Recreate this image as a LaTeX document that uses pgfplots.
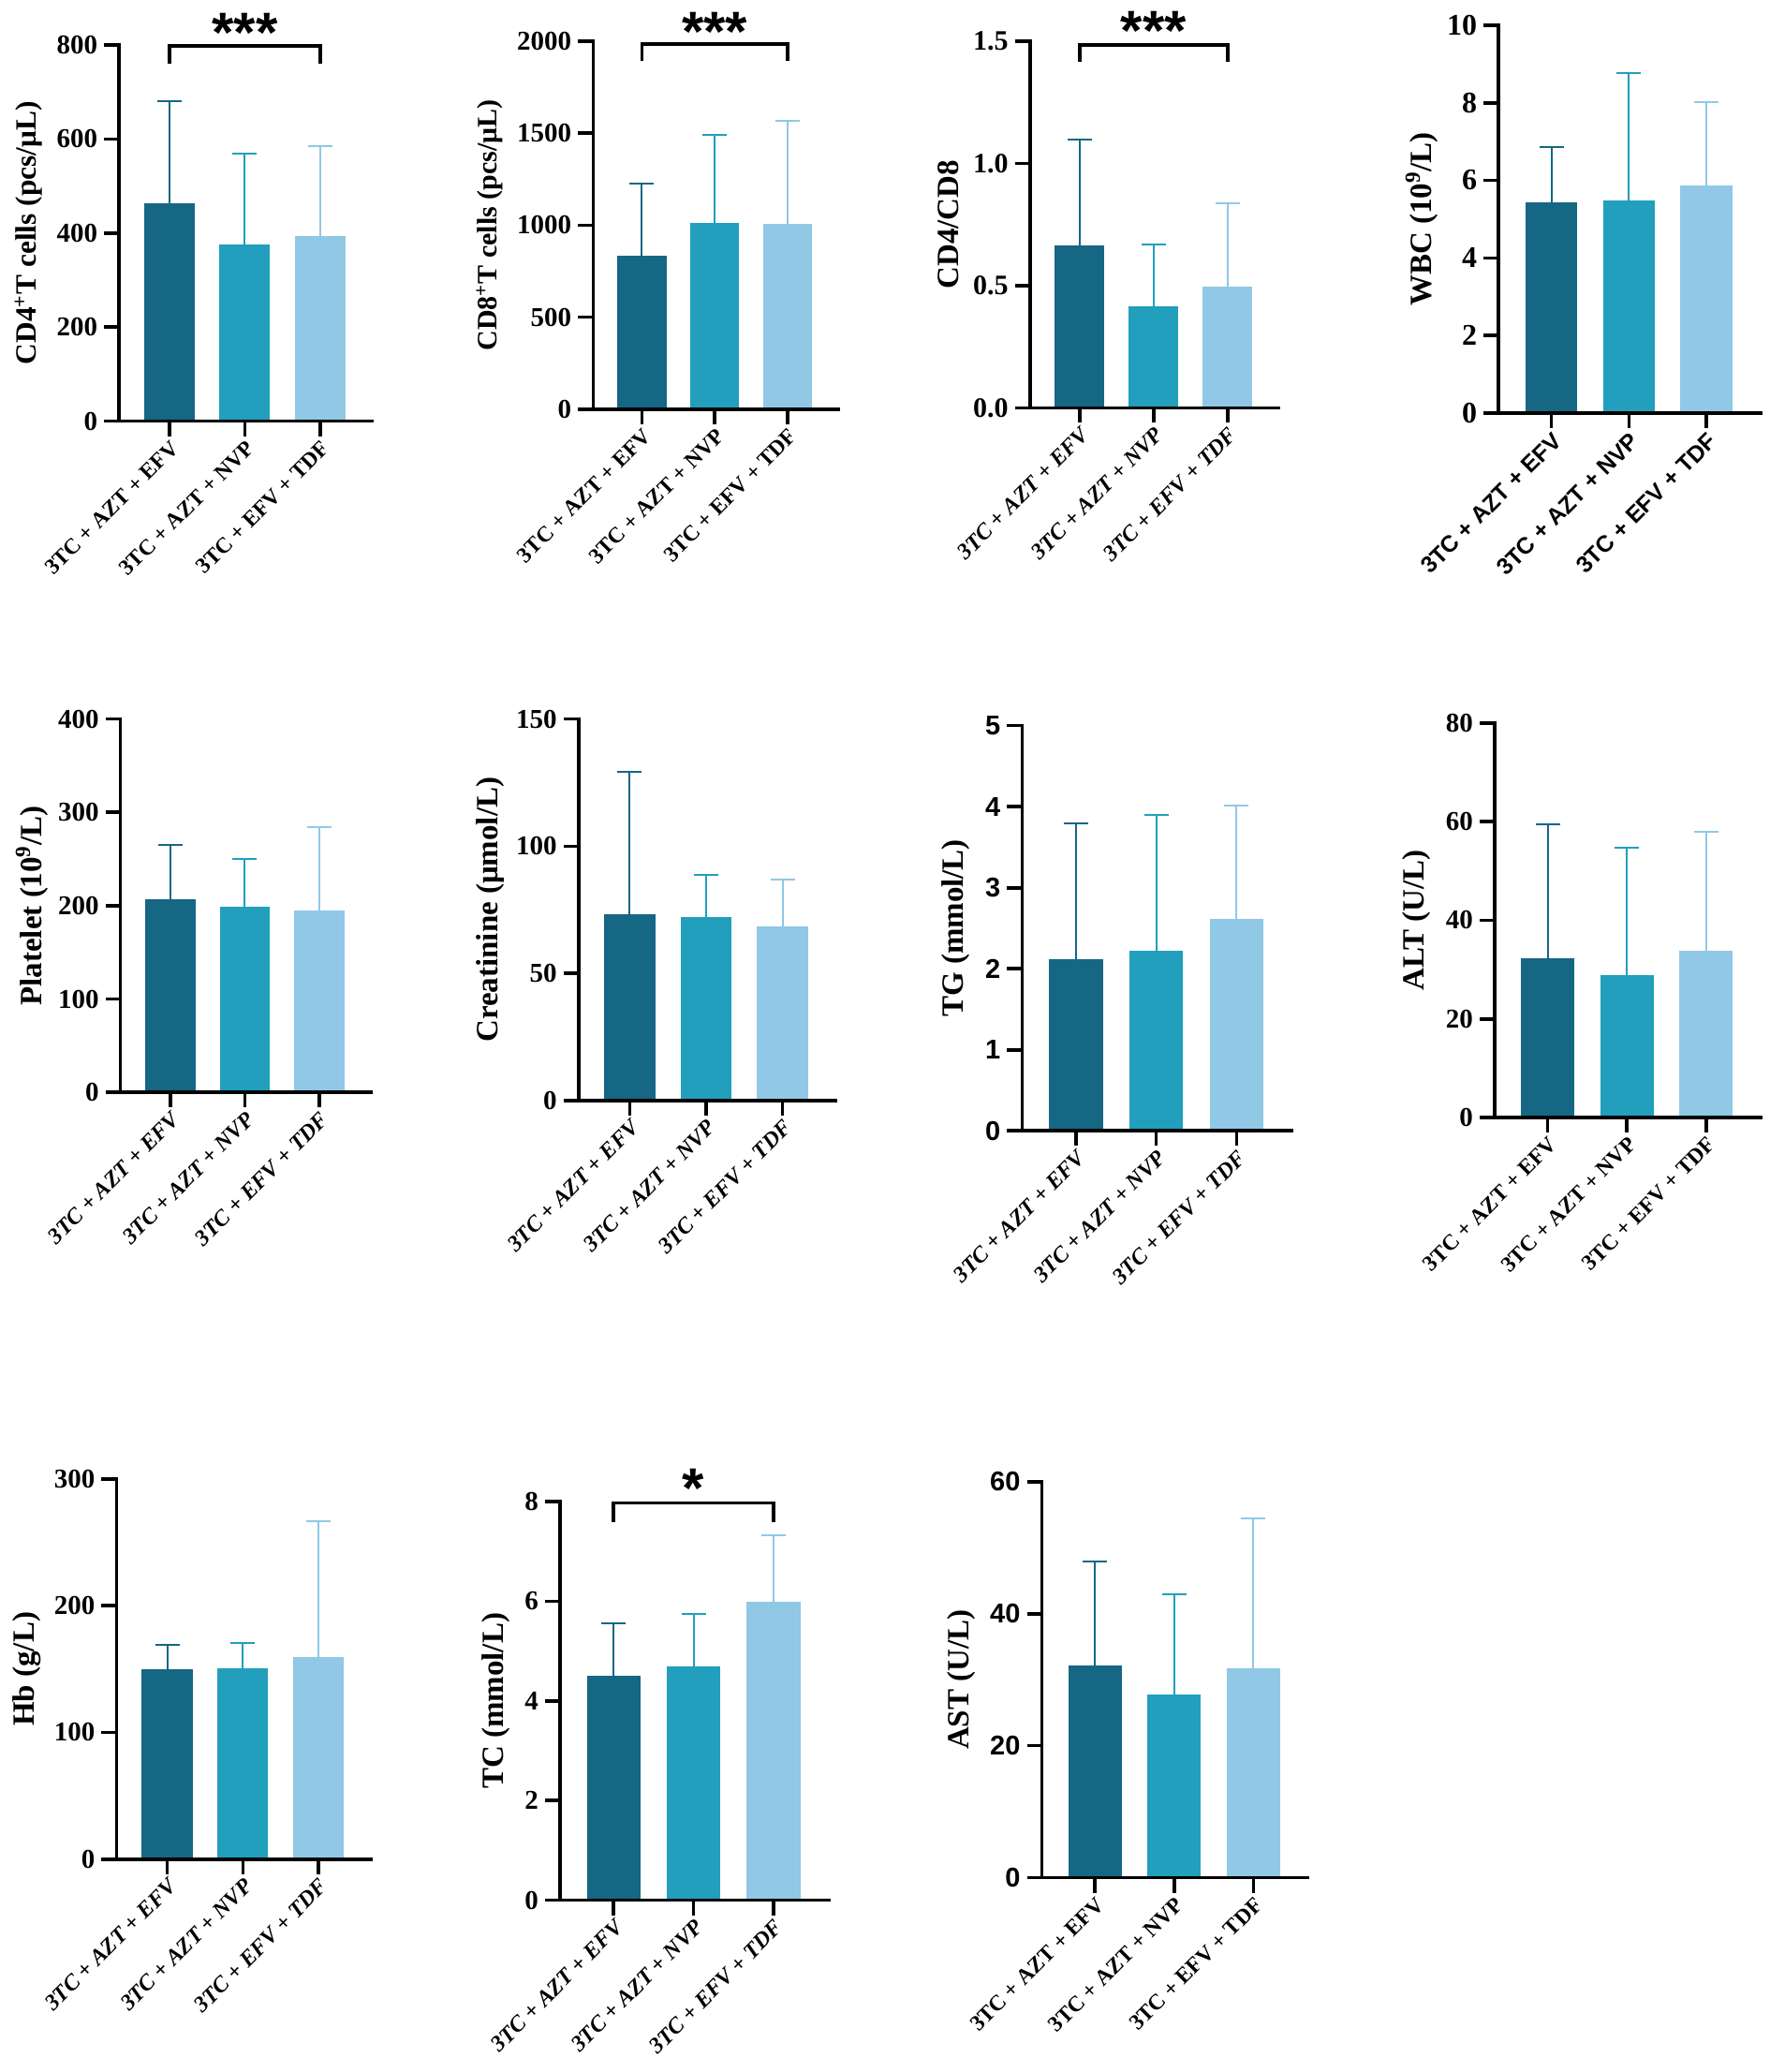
\documentclass[border=0pt]{standalone}
\usepackage{fontspec}
\setmainfont{Liberation Serif}
\newfontfamily\arialfont{Liberation Sans}
\usepackage{pgfplots}
\pgfplotsset{compat=1.18}
\definecolor{c1}{HTML}{156784}
\definecolor{c2}{HTML}{219FBD}
\definecolor{c3}{HTML}{90C8E6}
\newcommand{\tickserif}{\bfseries\fontsize{14.5}{16}\selectfont}
\newcommand{\ticksans}{\arialfont\bfseries\fontsize{14.5}{16}\selectfont}
\newcommand{\labup}{\bfseries\fontsize{11.8}{13}\selectfont}
\newcommand{\labit}{\bfseries\itshape\fontsize{12}{13}\selectfont}
\newcommand{\labsans}{\arialfont\bfseries\fontsize{12.4}{13}\selectfont}
\newcommand{\starfont}{\arialfont\bfseries\fontsize{30}{32}\selectfont}
\pgfplotsset{
 gp/.style={
  scale only axis, clip=false, axis on top,
  anchor=south west,
  axis x line=bottom, axis y line=left,
  axis line style={line width=1.8pt, -, line cap=rect},
  tick style={black, line width=1.8pt},
  major tick length=8pt,
  tick align=outside,
  xmin=-0.67, xmax=2.69, ymin=0,
  xtick={0,1,2},
  xticklabels={3TC + AZT + EFV, 3TC + AZT + NVP, 3TC + EFV + TDF},
  x tick label style={rotate=45, anchor=north east, inner sep=1pt},
  /pgf/number format/assume math mode=true,
  /pgf/number format/1000 sep={},
  scaled y ticks=false,
  ylabel style={font=\bfseries\fontsize{16.5}{18}\selectfont, anchor=center},
 },
 b1/.style={ybar, bar width=0.67, bar shift=0pt, fill=c1, draw=none,
   error bars/.cd, y dir=plus, y explicit,
   error bar style={c1, line width=1pt},
   error mark options={c1, line width=1pt, mark size=6.5pt, rotate=90}},
 b2/.style={ybar, bar width=0.67, bar shift=0pt, fill=c2, draw=none,
   error bars/.cd, y dir=plus, y explicit,
   error bar style={c2, line width=1pt},
   error mark options={c2, line width=1pt, mark size=6.5pt, rotate=90}},
 b3/.style={ybar, bar width=0.67, bar shift=0pt, fill=c3, draw=none,
   error bars/.cd, y dir=plus, y explicit,
   error bar style={c3, line width=1pt},
   error mark options={c3, line width=1pt, mark size=6.5pt, rotate=90}},
}
\begin{document}
\begin{tikzpicture}
\useasboundingbox (0,0) rectangle (945pt,-1106pt);
% ---------- Row 1 ----------
\begin{axis}[gp, at={(63.61pt,-224.76pt)}, width=135.0pt, height=200.73pt,
  ymax=800, ytick={0,200,400,600,800},
  ylabel={CD4\textsuperscript{+}T cells (pcs/μL)},
  ylabel style={at={(axis description cs:-0.358,0.5)}, font=\bfseries\fontsize{15.7}{17}\selectfont},
  yticklabel style={font=\tickserif}, xticklabel style={font=\labup}]
\addplot[b1] coordinates {(0,463) +- (0,218)};
\addplot[b2] coordinates {(1,376) +- (0,194)};
\addplot[b3] coordinates {(2,394) +- (0,191)};
\draw[line width=1.8pt] (axis cs:0,761) -- (axis cs:0,798) -- (axis cs:2,798) -- (axis cs:2,761);
\node[font=\starfont, anchor=base, yshift=-17.3pt] at (axis cs:1,854) {***};
\end{axis}
\begin{axis}[gp, at={(316.65pt,-218.40pt)}, width=130.76pt, height=196.49pt,
  ymax=2000, ytick={0,500,1000,1500,2000},
  ylabel={CD8\textsuperscript{+}T cells (pcs/μL)},
  ylabel style={at={(axis description cs:-0.422,0.5)}, font=\bfseries\fontsize{15}{17}\selectfont},
  yticklabel style={font=\tickserif}, xticklabel style={font=\labup}]
\addplot[b1] coordinates {(0,833) +- (0,393)};
\addplot[b2] coordinates {(1,1014) +- (0,477)};
\addplot[b3] coordinates {(2,1007) +- (0,562)};
\draw[line width=1.8pt] (axis cs:0,1890) -- (axis cs:0,1983) -- (axis cs:2,1983) -- (axis cs:2,1890);
\node[font=\starfont, anchor=base, yshift=-17.3pt] at (axis cs:1,2122) {***};
\end{axis}
\begin{axis}[gp, at={(549.89pt,-217.69pt)}, width=132.88pt, height=195.78pt,
  ymax=1.5, ytick={0,0.5,1,1.5},
  /pgf/number format/fixed, /pgf/number format/fixed zerofill, /pgf/number format/precision=1,
  ylabel={CD4/CD8},
  ylabel style={at={(axis description cs:-0.326,0.5)}},
  yticklabel style={font=\bfseries\fontsize{15}{16}\selectfont}, xticklabel style={font=\labit}]
\addplot[b1] coordinates {(0,0.663) +- (0,0.434)};
\addplot[b2] coordinates {(1,0.417) +- (0,0.250)};
\addplot[b3] coordinates {(2,0.494) +- (0,0.343)};
\draw[line width=1.8pt] (axis cs:0,1.414) -- (axis cs:0,1.484) -- (axis cs:2,1.484) -- (axis cs:2,1.414);
\node[font=\starfont, anchor=base, yshift=-17.3pt] at (axis cs:1,1.596) {***};
\end{axis}
\begin{axis}[gp, at={(800.10pt,-220.52pt)}, width=139.95pt, height=207.09pt,
  xmin=-0.68, xmax=2.70,
  ymax=10, ytick={0,2,4,6,8,10},
  ylabel={WBC (10\textsuperscript{9}/L)},
  ylabel style={at={(axis description cs:-0.293,0.5)}},
  yticklabel style={font=\bfseries\fontsize{16}{17}\selectfont}, xticklabel style={font=\labsans}]
\addplot[b1] coordinates {(0,5.44) +- (0,1.41)};
\addplot[b2] coordinates {(1,5.48) +- (0,3.28)};
\addplot[b3] coordinates {(2,5.86) +- (0,2.15)};
\end{axis}
% ---------- Row 2 ----------
\begin{axis}[gp, at={(64.32pt,-583.11pt)}, width=133.59pt, height=199.32pt,
  ymax=400, ytick={0,100,200,300,400},
  ylabel={Platelet (10\textsuperscript{9}/L)},
  ylabel style={at={(axis description cs:-0.353,0.5)}},
  yticklabel style={font=\tickserif}, xticklabel style={font=\labit}]
\addplot[b1] coordinates {(0,207) +- (0,58)};
\addplot[b2] coordinates {(1,199) +- (0,51)};
\addplot[b3] coordinates {(2,195) +- (0,89)};
\end{axis}
\begin{axis}[gp, at={(308.87pt,-587.35pt)}, width=137.12pt, height=203.56pt,
  ymax=150, ytick={0,50,100,150},
  ylabel={Creatinine (μmol/L)},
  ylabel style={at={(axis description cs:-0.345,0.5)}},
  yticklabel style={font=\tickserif}, xticklabel style={font=\labit}]
\addplot[b1] coordinates {(0,73.4) +- (0,56.0)};
\addplot[b2] coordinates {(1,72.1) +- (0,16.6)};
\addplot[b3] coordinates {(2,68.3) +- (0,18.5)};
\end{axis}
\begin{axis}[gp, at={(545.65pt,-603.61pt)}, width=144.19pt, height=216.28pt,
  ymax=5, ytick={0,1,2,3,4,5},
  ylabel={TG (mmol/L)},
  ylabel style={at={(axis description cs:-0.247,0.5)}},
  yticklabel style={font=\ticksans}, xticklabel style={font=\labit}]
\addplot[b1] coordinates {(0,2.12) +- (0,1.67)};
\addplot[b2] coordinates {(1,2.22) +- (0,1.68)};
\addplot[b3] coordinates {(2,2.62) +- (0,1.39)};
\end{axis}
\begin{axis}[gp, at={(797.98pt,-596.54pt)}, width=142.07pt, height=210.63pt,
  ymax=80, ytick={0,20,40,60,80},
  ylabel={ALT (U/L)},
  ylabel style={at={(axis description cs:-0.293,0.5)}},
  yticklabel style={font=\tickserif}, xticklabel style={font=\labup}]
\addplot[b1] coordinates {(0,32.3) +- (0,27.1)};
\addplot[b2] coordinates {(1,28.8) +- (0,26.0)};
\addplot[b3] coordinates {(2,33.8) +- (0,24.1)};
\end{axis}
% ---------- Row 3 ----------
\begin{axis}[gp, at={(62.20pt,-992.35pt)}, width=135.71pt, height=202.85pt,
  ymax=300, ytick={0,100,200,300},
  ylabel={Hb (g/L)},
  ylabel style={at={(axis description cs:-0.354,0.5)}},
  yticklabel style={font=\tickserif}, xticklabel style={font=\labit}]
\addplot[b1] coordinates {(0,150.2) +- (0,19.1)};
\addplot[b2] coordinates {(1,150.5) +- (0,20.2)};
\addplot[b3] coordinates {(2,159.6) +- (0,107.1)};
\end{axis}
\begin{axis}[gp, at={(298.98pt,-1014.26pt)}, width=143.48pt, height=212.75pt,
  ymax=8, ytick={0,2,4,6,8},
  ylabel={TC (mmol/L)},
  ylabel style={at={(axis description cs:-0.238,0.5)}},
  yticklabel style={font=\tickserif}, xticklabel style={font=\labit}]
\addplot[b1] coordinates {(0,4.50) +- (0,1.05)};
\addplot[b2] coordinates {(1,4.69) +- (0,1.05)};
\addplot[b3] coordinates {(2,5.98) +- (0,1.34)};
\draw[line width=1.8pt] (axis cs:0,7.58) -- (axis cs:0,7.97) -- (axis cs:2,7.97) -- (axis cs:2,7.58);
\node[font=\starfont, anchor=base, yshift=-17.3pt] at (axis cs:1,8.53) {*};
\end{axis}
\begin{axis}[gp, at={(556.25pt,-1002.24pt)}, width=142.07pt, height=211.33pt,
  ymax=60, ytick={0,20,40,60},
  ylabel={AST (U/L)},
  ylabel style={at={(axis description cs:-0.302,0.5)}},
  yticklabel style={font=\ticksans}, xticklabel style={font=\labup}]
\addplot[b1] coordinates {(0,32.1) +- (0,15.8)};
\addplot[b2] coordinates {(1,27.8) +- (0,15.2)};
\addplot[b3] coordinates {(2,31.7) +- (0,22.7)};
\end{axis}
\end{tikzpicture}
\end{document}
